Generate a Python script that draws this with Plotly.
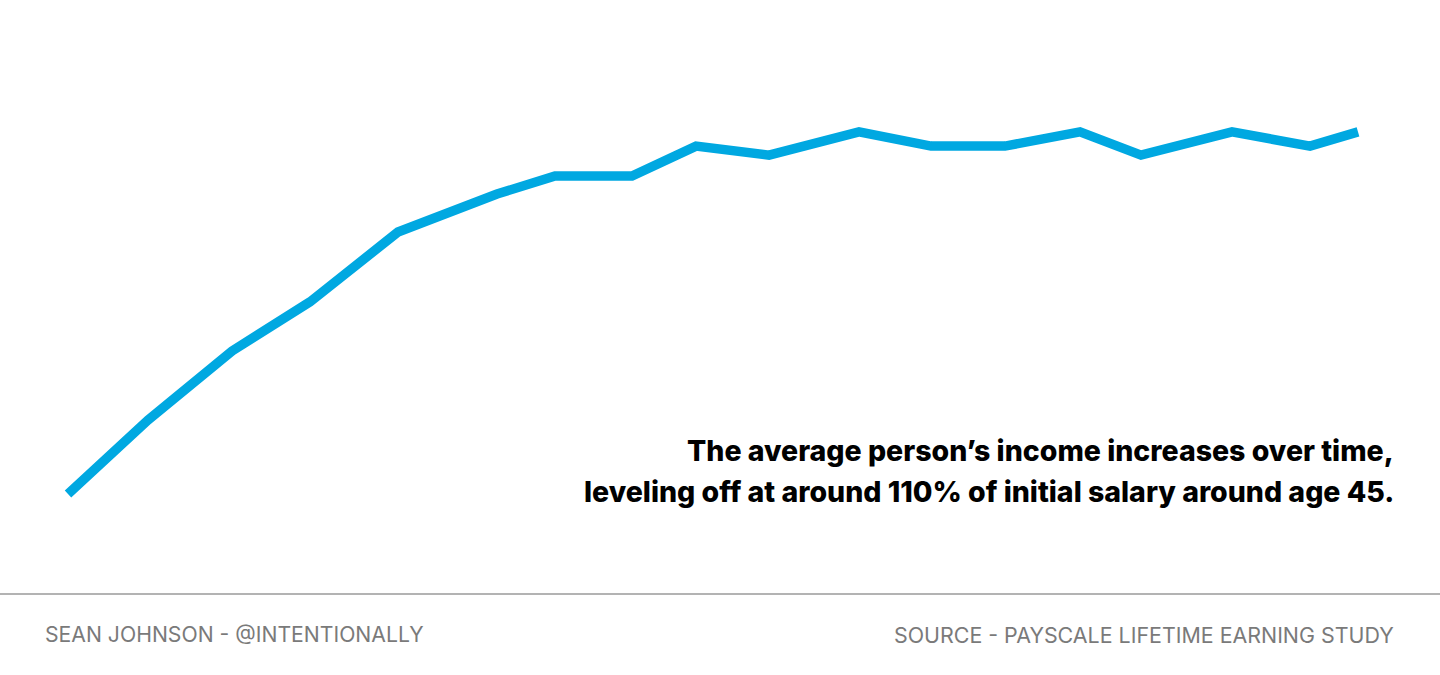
import plotly.graph_objects as go

# Relative position along the career timeline (arbitrary units) and income growth (% over initial)
x_pos = [0, 80, 164, 242, 330, 429, 487, 564, 628, 701, 791, 863, 937, 1012, 1073, 1164, 1242, 1290]
growth = [0, 23.0, 44.4, 59.7, 81.4, 93.2, 98.8, 98.8, 108.1, 105.3, 112.5, 108.1, 108.1, 112.5, 105.3, 112.5, 108.1, 112.5]

headline = ["The average person\u2019s income increases over time,",
            "leveling off at around 110% of initial salary around age 45."]
credit_left = "SEAN JOHNSON - @INTENTIONALLY"
credit_right = "SOURCE - PAYSCALE LIFETIME EARNING STUDY"

W, H = 1440, 675

fig = go.Figure()
fig.add_trace(go.Scatter(x=x_pos, y=growth, mode="lines",
                         line=dict(color="#00A8E1", width=9.5),
                         hoverinfo="skip", showlegend=False))

fig.update_layout(
    width=W, height=H,
    margin=dict(l=0, r=0, t=0, b=0),
    paper_bgcolor="white", plot_bgcolor="white",
    xaxis=dict(visible=False, range=[-68, 1372], fixedrange=True),
    yaxis=dict(visible=False, range=[-56.24, 153.49], fixedrange=True),
    showlegend=False,
)

# separator line
fig.add_shape(type="line", xref="paper", yref="paper", x0=0, x1=1,
              y0=1 - 594 / H, y1=1 - 594 / H,
              line=dict(color="#9a9a9a", width=1.5))

for i, (txt, ypix) in enumerate(zip(headline, [450, 491])):
    fig.add_annotation(text=txt, xref="paper", yref="paper",
                       x=1396 / W, y=1 - ypix / H, xanchor="right", yanchor="middle",
                       showarrow=False,
                       font=dict(family="Inter", size=28.5, weight=800, color="#000000"))

fig.add_annotation(text=credit_left, xref="paper", yref="paper",
                   x=43 / W, y=1 - 634 / H, xanchor="left", yanchor="middle",
                   showarrow=False, font=dict(family="Inter", size=21.2, color="#7a7a7a"))
fig.add_annotation(text=credit_right, xref="paper", yref="paper",
                   x=1396 / W, y=1 - 635 / H, xanchor="right", yanchor="middle",
                   showarrow=False, font=dict(family="Inter", size=21.4, color="#7a7a7a"))

fig.write_html("out.html", config={"displayModeBar": False},
               post_script="document.body.style.margin='0';document.body.style.padding='0';")
